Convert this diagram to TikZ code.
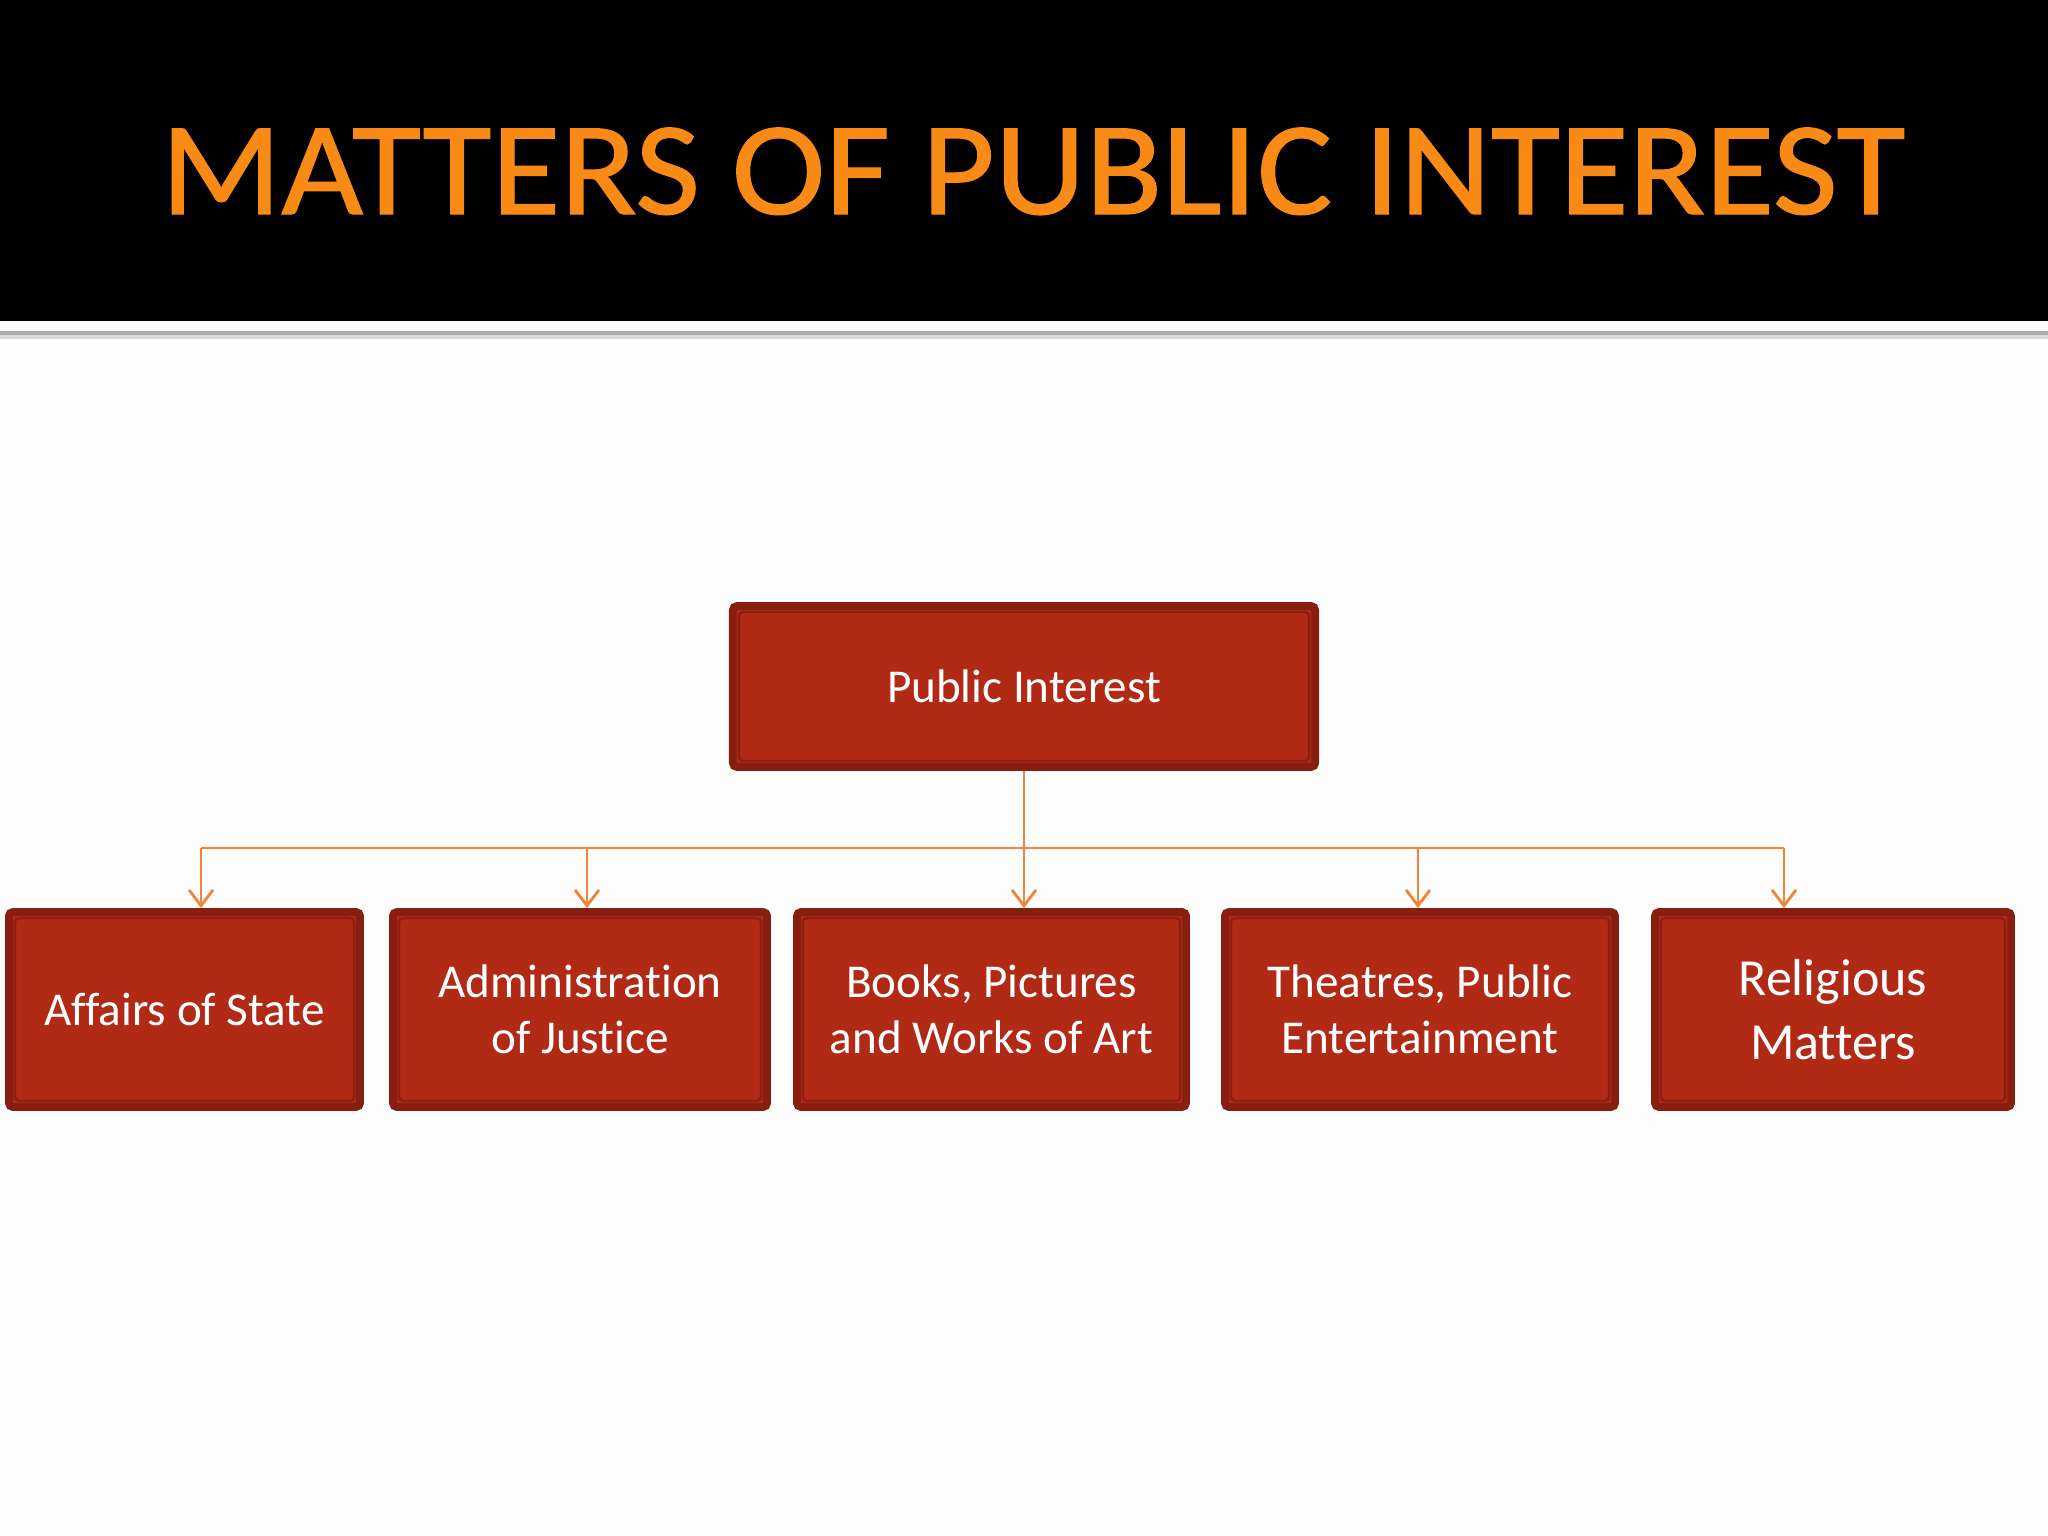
\documentclass[tikz,border=0pt]{standalone}
\usepackage{fontspec}
\usepackage{graphicx}
\setmainfont{Carlito}[Ligatures={NoCommon}]
\newfontfamily\titlefont{Carlito}[FakeBold=0.9]
\usetikzlibrary{arrows.meta}
\definecolor{titleorange}{RGB}{250,138,22}
\definecolor{boxfill}{RGB}{176,42,22}
\definecolor{boxedge}{RGB}{136,30,16}
\definecolor{linkorange}{RGB}{240,132,56}
\definecolor{pagebg}{RGB}{253,253,253}
\newcommand{\titletext}{\resizebox{17.44cm}{\height}{MATTERS OF PUBLIC INTEREST}}
\tikzset{
  redbox/.style={rectangle, fill=boxfill, draw=boxedge, line width=2.2pt, rounded corners=1.2pt,
    text=white, align=center, inner sep=0pt, font=\fontsize{13.4}{16}\selectfont,
    path picture={\draw[boxedge!85!boxfill, line width=0.7pt]
      ([shift={(0.06cm,-0.06cm)}]path picture bounding box.north west) rectangle
      ([shift={(-0.06cm,0.06cm)}]path picture bounding box.south east);}},
  link/.style={draw=linkorange, line width=0.8pt},
  arr/.style={link, -{Straight Barb[length=4.5pt,width=6.8pt,line width=0.8pt]}},
  titlestyle/.style={font=\titlefont\fontsize{37.8}{40}\selectfont, anchor=base west, inner sep=0pt}
}
\begin{document}
\begin{tikzpicture}[x=0.01cm,y=-0.01cm]
\useasboundingbox[fill=pagebg] (0,0) rectangle (2048,1536);
\fill[black] (0,0) rectangle (2048,321);
\fill[gray!30] (0,333) rectangle (2048,339);
\fill[gray!65] (0,331) rectangle (2048,335);
\node (title) [titlestyle, text=titleorange] at (160,214) {\titletext};

\node (pi) [redbox, minimum width=5.82cm, minimum height=1.61cm] at (1024,686.5) {Public Interest};
\node (b1) [redbox, minimum width=3.51cm, minimum height=1.95cm] at (184.5,1009.5) {Affairs of State};
\node (b2) [redbox, minimum width=3.74cm, minimum height=1.95cm] at (580,1009.5) {Administration\\of Justice};
\node (b3) [redbox, minimum width=3.89cm, minimum height=1.95cm] at (991.5,1009.5) {Books, Pictures\\and Works of Art};
\node (b4) [redbox, minimum width=3.90cm, minimum height=1.95cm] at (1420,1009.5) {Theatres, Public\\Entertainment};
\node (b5) [redbox, minimum width=3.56cm, minimum height=1.95cm, font=\fontsize{14.8}{18}\selectfont] at (1833,1009.5) {Religious\\Matters};

\coordinate (bus1) at (201,848);
\coordinate (bus2) at (587,848);
\coordinate (bus3) at (1024,848);
\coordinate (bus4) at (1418,848);
\coordinate (bus5) at (1784,848);
\draw[link] (bus1) -- (bus5);
\draw[arr] (pi.south) -- (pi.south |- b3.north);
\draw[arr] (bus1) -- (bus1 |- b1.north);
\draw[arr] (bus2) -- (bus2 |- b2.north);
\draw[arr] (bus4) -- (bus4 |- b4.north);
\draw[arr] (bus5) -- (bus5 |- b5.north);
\end{tikzpicture}
\end{document}
